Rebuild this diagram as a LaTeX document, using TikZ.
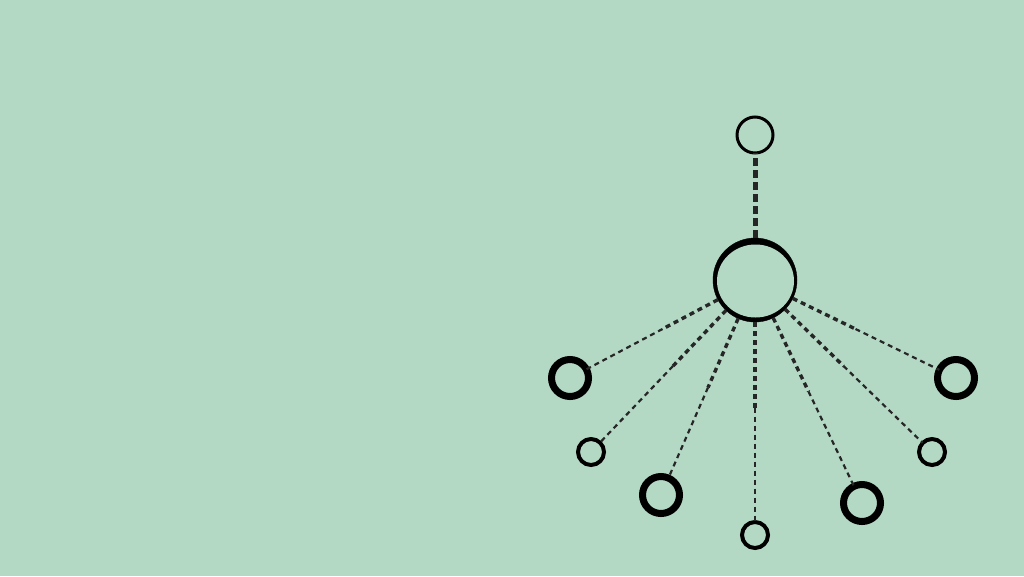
\documentclass[tikz,border=0pt]{standalone}
\usepackage{tikz}
\usepackage{tkz-graph}
\usetikzlibrary{positioning,calc}
\definecolor{mint}{RGB}{179,217,197}

\begin{document}
\begin{tikzpicture}[x=1pt,y=-1pt]
          \fill[mint] (0,0) rectangle (1024,576);
          \useasboundingbox (0,0) rectangle (1024,576);
          \SetVertexNoLabel
          \tikzset{VertexStyle/.style = {shape=circle, draw=black, fill=mint, inner sep=0pt}}
          \tikzset{BigRing/.style = {minimum size=37pt, line width=7pt}}
          \tikzset{SmallRing/.style = {minimum size=26pt, line width=4pt}}
          \tikzset{Link/.style = {black!85, dash pattern=on 5pt off 4pt}}

          % hub and its leaves
          \Vertex[x=755,y=280,style={minimum size=84pt}]{H}
          \fill[black] (H) circle [radius=42pt];
          \fill[mint] ($(H)+(0.5,1)$) ellipse [x radius=38.5pt, y radius=36.5pt];
          \Vertex[x=755,y=135,style={minimum size=36pt, line width=3pt}]{T}
          \Vertex[x=570,y=378,style={BigRing}]{A}
          \Vertex[x=591,y=452,style={SmallRing}]{B}
          \Vertex[x=661,y=495,style={BigRing}]{C}
          \Vertex[x=755,y=535,style={SmallRing}]{D}
          \Vertex[x=862,y=503,style={BigRing}]{E}
          \Vertex[x=932,y=452,style={SmallRing}]{F}
          \Vertex[x=956,y=378,style={BigRing}]{G}

          \draw[Link, line width=5pt, dash pattern=on 8pt off 4pt] (H) -- (T);
          \foreach \v in {A,B,C,D,E,F,G}{
            \draw[Link, line width=3.4pt] (H) -- ($(H)!.5!(\v)$);
            \draw[Link, line width=2.2pt] ($(H)!.5!(\v)$) -- (\v);
          }
        \end{tikzpicture}
\end{document}
